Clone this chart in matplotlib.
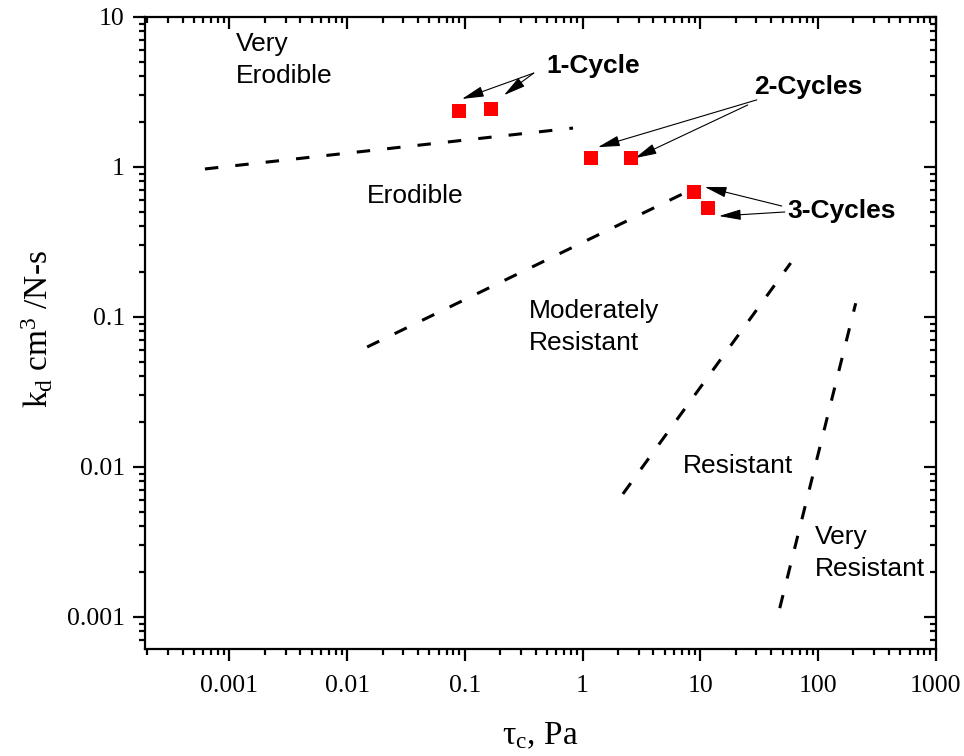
"""Erodibility classification chart: k_d vs tau_c with cycle test results."""

import matplotlib

matplotlib.use("Agg")
import matplotlib.pyplot as plt
from matplotlib.ticker import LogLocator, NullFormatter, FixedFormatter, FixedLocator

plt.rcParams["mathtext.fontset"] = "custom"
plt.rcParams["mathtext.rm"] = "Liberation Serif"
plt.rcParams["mathtext.it"] = "Liberation Serif:italic"

# measured points (tau_c in Pa, k_d in cm^3/N-s)
cycle1_tau = [0.089, 0.167]
cycle1_kd = [2.35, 2.43]
cycle2_tau = [1.18, 2.57]
cycle2_kd = [1.14, 1.14]
cycle3_tau = [8.8, 11.6]
cycle3_kd = [0.68, 0.53]

# class boundary lines (endpoints)
bound_tau = [[6.2e-4, 0.83], [0.0148, 8.0], [2.2, 58.6], [47.3, 209.0]]
bound_kd = [[0.966, 1.81], [0.0628, 0.69], [0.00658, 0.228], [0.00114, 0.123]]

# region labels: text, x, y (top of text)
region_labels = ["Very\nErodible", "Erodible", "Moderately\nResistant", "Resistant", "Very\nResistant"]
region_x = [0.00114, 0.0148, 0.35, 7.1, 93.8]
region_y = [7.9, 0.77, 0.131, 0.0121, 0.0041]

x_ticks = [0.001, 0.01, 0.1, 1, 10, 100, 1000]
x_ticklabels = ["0.001", "0.01", "0.1", "1", "10", "100", "1000"]
y_ticks = [0.001, 0.01, 0.1, 1, 10]
y_ticklabels = ["0.001", "0.01", "0.1", "1", "10"]

XLIM = (1.92e-4, 1000)
YLIM = (6.06e-4, 10)
POS = [0.1504, 0.1411, 0.8203, 0.8368]

fig = plt.figure(figsize=(9.64, 7.56), dpi=100)
ax = fig.add_axes(POS)
# overlay axes only for the inward ticks on top and right
ax_in = fig.add_axes(POS, frameon=False)

for a in (ax, ax_in):
    a.set_xscale("log")
    a.set_yscale("log")
    a.set_xlim(*XLIM)
    a.set_ylim(*YLIM)
    a.xaxis.set_major_locator(FixedLocator(x_ticks))
    a.yaxis.set_major_locator(FixedLocator(y_ticks))
    a.xaxis.set_minor_locator(LogLocator(base=10, subs=range(2, 10), numticks=20))
    a.yaxis.set_minor_locator(LogLocator(base=10, subs=range(2, 10), numticks=20))
    a.xaxis.set_minor_formatter(NullFormatter())
    a.yaxis.set_minor_formatter(NullFormatter())
    a.tick_params(which="major", length=8.5, width=1.6)
    a.tick_params(which="minor", length=4.5, width=1.6)

ax.xaxis.set_major_formatter(FixedFormatter(x_ticklabels))
ax.yaxis.set_major_formatter(FixedFormatter(y_ticklabels))
ax.tick_params(which="both", direction="out", top=False, right=False)
ax.tick_params(axis="x", pad=10)
ax.tick_params(axis="y", pad=6)
ax_in.tick_params(which="both", direction="in", top=True, right=True, bottom=False, left=False,
                  labelbottom=False, labelleft=False)
ax_in.patch.set_visible(False)

for sp in ax.spines.values():
    sp.set_linewidth(1.6)
for lbl in ax.get_xticklabels() + ax.get_yticklabels():
    lbl.set_family("Liberation Serif")
    lbl.set_fontsize(18.5)

for xs, ys in zip(bound_tau, bound_kd):
    ax.plot(xs, ys, color="black", lw=2.2, linestyle=(0, (4.4, 5.6)), solid_capstyle="butt")

for xs, ys in [(cycle1_tau, cycle1_kd), (cycle2_tau, cycle2_kd), (cycle3_tau, cycle3_kd)]:
    ax.plot(xs, ys, "s", color="#ff0000", markersize=10, markeredgewidth=0, zorder=5)

for lab, x, y in zip(region_labels, region_x, region_y):
    ax.text(x, y, lab, family="Liberation Sans", fontsize=19, ha="left", va="top",
            linespacing=1.42)

bold = dict(family="Liberation Sans", fontsize=19, fontweight="bold", ha="left", va="baseline")
ax.text(0.488, 4.21, "1-Cycle", **bold)
ax.text(28.5, 3.05, "2-Cycles", **bold)
ax.text(55.3, 0.455, "3-Cycles", **bold)

arrow = dict(arrowstyle="-|>,head_length=0.75,head_width=0.18", color="black", lw=0.8,
             shrinkA=0, shrinkB=0, mutation_scale=18)
annots = [
    ((0.0945, 2.83), (0.385, 4.21)),
    ((0.215, 3.0), (0.385, 4.21)),
    ((1.35, 1.35), (30.2, 2.79)),
    ((2.78, 1.14), (25.3, 2.58)),
    ((10.9, 0.733), (49.2, 0.547)),
    ((14.4, 0.469), (52.2, 0.499)),
]
for head, tail in annots:
    ax.annotate("", xy=head, xytext=tail, arrowprops=arrow)

fig.text(0.560, 0.016, r"τ$_\mathrm{c}$, Pa", family="Liberation Serif", fontsize=24,
         ha="center", va="baseline")
fig.text(0.039, 0.565, r"k$_\mathrm{d}$ cm$^\mathrm{3}$ /N-s", family="Liberation Serif",
         fontsize=24, ha="center", va="center", rotation=90)

fig.savefig("out.png", dpi=100)
plt.close(fig)
